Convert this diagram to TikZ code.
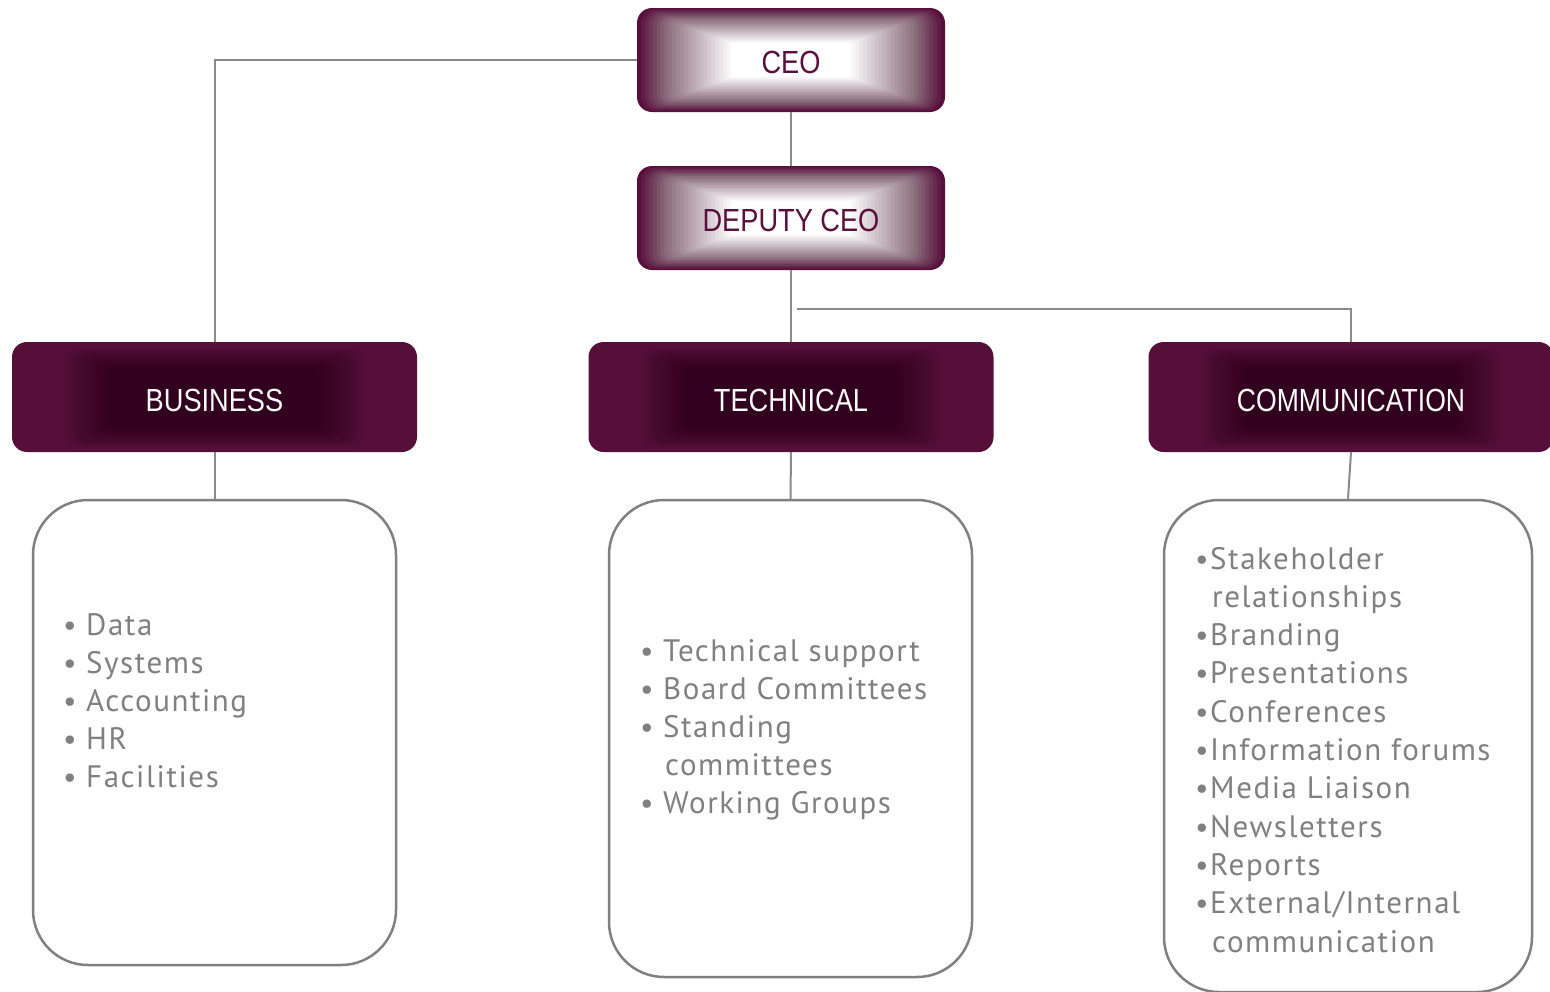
\documentclass[tikz,border=0pt]{standalone}
\usepackage{fontspec}
\usepackage{graphicx}
\newfontfamily\labfont{Liberation Sans}
\newfontfamily\listfont{PT Sans}[LetterSpace=5]
\definecolor{plum}{HTML}{560F39}
\definecolor{plumedge}{HTML}{580F3C}
\definecolor{mauve}{HTML}{8A6C7C}
\definecolor{ceotext}{HTML}{5A0F3C}
\definecolor{listgray}{HTML}{808080}
\definecolor{linegray}{HTML}{8A8A8A}
\newcommand\topglow[1]{%
  \foreach \i in {0,...,24}{%
    \pgfmathsetmacro\hx{154-\i*3.9}%
    \pgfmathsetmacro\hy{52-\i*1.45}%
    \pgfmathsetmacro\rc{max(2,15-\i)}%
    \ifnum\i<7
      \pgfmathsetmacro\pc{\i*14.3}\def\col{mauve!\pc!plumedge}%
    \else
      \pgfmathsetmacro\pc{(\i-7)*5.9}\def\col{white!\pc!mauve}%
    \fi
    \fill[fill=\col, rounded corners=\rc pt] (791-\hx,#1-\hy) rectangle (791+\hx,#1+\hy);
  }}
\newcommand\deptglow[1]{%
  \fill[plum, rounded corners=15pt] (#1-202.5,342) rectangle (#1+202.5,452);
  \foreach \i in {0,...,15}{%
    \pgfmathsetmacro\hx{150-\i*3.2}%
    \pgfmathsetmacro\hy{50-\i*1.4}%
    \fill[black, opacity=0.026, rounded corners=10pt] (#1-\hx,398-\hy) rectangle (#1+\hx,398+\hy);
  }}
\begin{document}
\begin{tikzpicture}[x=1pt,y=-1pt,
  conn/.style={draw=linegray, line width=2pt},
  topbox/.style={minimum width=308pt, minimum height=104pt, inner sep=0pt},
  deptbox/.style={minimum width=405pt, minimum height=110pt, inner sep=0pt},
  toplab/.style={inner sep=0pt, text=ceotext, font=\labfont\fontsize{32}{36}\selectfont},
  deptlab/.style={inner sep=0pt, text=white, font=\labfont\fontsize{32}{36}\selectfont},
  listbox/.style={draw=listgray, line width=2.5pt, rounded corners=55pt, inner sep=0pt},
  itemtext/.style={anchor=base west, inner sep=0pt, text=listgray, font=\listfont\fontsize{31}{36}\selectfont},
  bul/.style={anchor=base, inner sep=0pt, text=listgray, font=\listfont\fontsize{30}{36}\selectfont}]
\useasboundingbox (0,0) rectangle (1550,991);
\clip (0,0) rectangle (1550,991);
% top boxes
\topglow{60}
\topglow{218}
\node[topbox] (ceo) at (791,60) {};
\node[topbox] (dep) at (791,218) {};
\node[toplab] (ceolab) at (791,62) {\scalebox{0.85}[1]{CEO}};
\node[toplab] (deplab) at (791,220) {\scalebox{0.85}[1]{DEPUTY CEO}};
% department boxes
\deptglow{214.5}
\deptglow{791}
\deptglow{1351}
\node[deptbox] (bus) at (214.5,397) {};
\node[deptbox] (tec) at (791,397) {};
\node[deptbox] (com) at (1351,397) {};
\node[deptlab] (buslab) at (214.5,400) {\scalebox{0.85}[1]{BUSINESS}};
\node[deptlab] (teclab) at (791,400) {\scalebox{0.85}[1]{TECHNICAL}};
\node[deptlab] (comlab) at (1351,400) {\scalebox{0.83}[1]{COMMUNICATION}};
% list boxes
\node[listbox, minimum width=363pt, minimum height=465pt] (buslist) at (214.5,732.5) {};
\node[listbox, minimum width=363pt, minimum height=477pt] (teclist) at (790.5,738.5) {};
\node[listbox, minimum width=368pt, minimum height=492pt] (comlist) at (1348,746) {};
% connectors
\draw[conn] (ceo.south) -- (dep.north);
\draw[conn] (ceo.west) -- (ceo.west -| bus.north) -- (bus.north);
\draw[conn] (dep.south) -- (tec.north);
\coordinate (junc) at (797,309);
\draw[conn] (junc) -- (junc -| com.north) -- (com.north);
\draw[conn] (bus.south) -- (buslist.north);
\draw[conn] (tec.south) -- (teclist.north);
\draw[conn] (com.south) -- (comlist.north);
% business items
\foreach \t [count=\k from 0] in {Data,Systems,Accounting,HR,Facilities}{
  \node[bul] (bb\k) at (70,635+38*\k) {•};
  \node[itemtext] (bt\k) at (86,635+38*\k) {\t};
}
% technical items
\foreach \t/\k in {Technical support/0,Board Committees/1,Standing/2,Working Groups/4}{
  \node[bul] (tb\k) at (647,661+38*\k) {•};
  \node[itemtext] (tt\k) at (663,661+38*\k) {\t};
}
\node[itemtext] (tt3) at (665,775) {committees};
% communication items
\foreach \t/\k in {Stakeholder/0,Branding/2,Presentations/3,Conferences/4,Information forums/5,Media Liaison/6,Newsletters/7,Reports/8}{
  \node[bul] (cb\k) at (1202,569+38.3*\k) {•};
  \node[itemtext] (ct\k) at (1210,569+38.3*\k) {\t};
}
\node[bul] (cb9) at (1202,913.7) {•};
\node[itemtext] (ct9) at (1210,913.7) {External/Internal};
\node[itemtext] (ct1) at (1212,607.3) {relationships};
\node[itemtext] (ct10) at (1212,952) {communication};
\end{tikzpicture}
\end{document}
